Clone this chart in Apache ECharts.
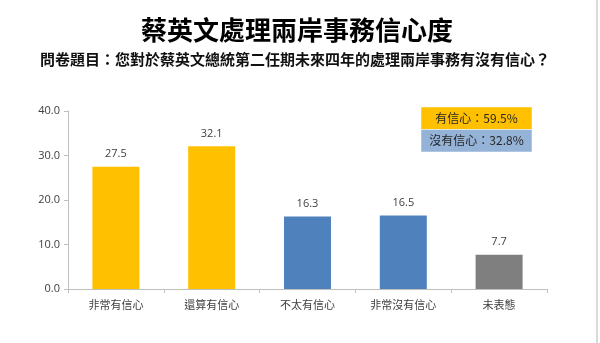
<!DOCTYPE html>
<html>
<head>
<meta charset="utf-8">
<title>蔡英文處理兩岸事務信心度</title>
<script src="https://cdn.jsdelivr.net/npm/echarts@6/dist/echarts.min.js"></script>
<style>
  html, body { margin: 0; padding: 0; background: #fff; }
  #chart { width: 600px; height: 343px; }
</style>
</head>
<body>
<div id="chart"></div>
<script>
// Survey answers and their shares (%)
const categories = ['非常有信心', '還算有信心', '不太有信心', '非常沒有信心', '未表態'];
const values = [27.5, 32.1, 16.3, 16.5, 7.7];
const barColors = ['#FFC000', '#FFC000', '#4F81BD', '#4F81BD', '#7F7F7F'];

// Summary box rows
const summaryLabels = ['有信心', '沒有信心'];
const summaryValues = [59.5, 32.8];
const summaryColors = ['#FFC000', '#95B3D7'];

// Value axis ticks
const yMin = 0, yMax = 40, yStep = 10;

const titleText = '蔡英文處理兩岸事務信心度';
const subtitleText = '問卷題目：您對於蔡英文總統第二任期未來四年的處理兩岸事務有沒有信心？';

const cjk = '"Noto Sans CJK TC", "Noto Sans", sans-serif';
const num = '"Open Sans", "Noto Sans", sans-serif';

const chart = echarts.init(document.getElementById('chart'), null, { renderer: 'canvas' });

const boxX = 421, boxY = 107, boxW = 111, rowH = 22.5;
const summaryGraphics = [];
summaryLabels.forEach((lab, i) => {
  summaryGraphics.push({
    type: 'rect',
    shape: { x: boxX, y: boxY + i * rowH, width: boxW, height: rowH },
    style: { fill: summaryColors[i], stroke: '#ffffff', lineWidth: 0.5 }
  });
  summaryGraphics.push({
    type: 'text',
    x: boxX + boxW / 2,
    y: boxY + i * rowH + rowH / 2,
    style: {
      text: lab + '：' + summaryValues[i].toFixed(1) + '%',
      fill: '#262626',
      font: '12px ' + cjk,
      align: 'center',
      verticalAlign: 'middle'
    }
  });
});

chart.setOption({
  animation: false,
  backgroundColor: '#ffffff',
  title: [
    {
      text: titleText,
      left: 292, top: 12, textAlign: 'center',
      textStyle: { fontFamily: cjk, fontSize: 26, fontWeight: 'bold', color: '#000' }
    },
    {
      text: subtitleText,
      left: 290, top: 47, textAlign: 'center',
      textStyle: { fontFamily: cjk, fontSize: 15, fontWeight: 'bold', color: '#111' }
    }
  ],
  grid: { left: 68, right: 53, top: 111, bottom: 54 },
  xAxis: {
    type: 'category',
    data: categories,
    axisLine: { lineStyle: { color: '#BFBFBF', width: 1 } },
    axisTick: { show: true, length: 4, lineStyle: { color: '#BFBFBF' } },
    axisLabel: { color: '#404040', fontSize: 11, fontFamily: cjk, margin: 10 }
  },
  yAxis: {
    type: 'value',
    min: yMin, max: yMax, interval: yStep,
    splitLine: { show: false },
    axisLine: { show: true, lineStyle: { color: '#BFBFBF', width: 1 } },
    axisTick: { show: true, length: 4, lineStyle: { color: '#BFBFBF' } },
    axisLabel: {
      color: '#404040', fontSize: 11, fontFamily: num, margin: 8,
      formatter: v => v.toFixed(1)
    }
  },
  series: [{
    type: 'bar',
    barWidth: 47,
    data: values.map((v, i) => ({ value: v, itemStyle: { color: barColors[i] } })),
    label: {
      show: true, position: 'top', distance: 7,
      color: '#404040', fontSize: 11, fontFamily: num,
      formatter: p => p.value.toFixed(1)
    }
  }],
  graphic: [
    {
      type: 'rect',
      shape: { x: 596, y: 0, width: 2, height: 343 },
      style: { fill: '#D9D9D9' }
    },
    ...summaryGraphics
  ]
});
</script>
</body>
</html>
